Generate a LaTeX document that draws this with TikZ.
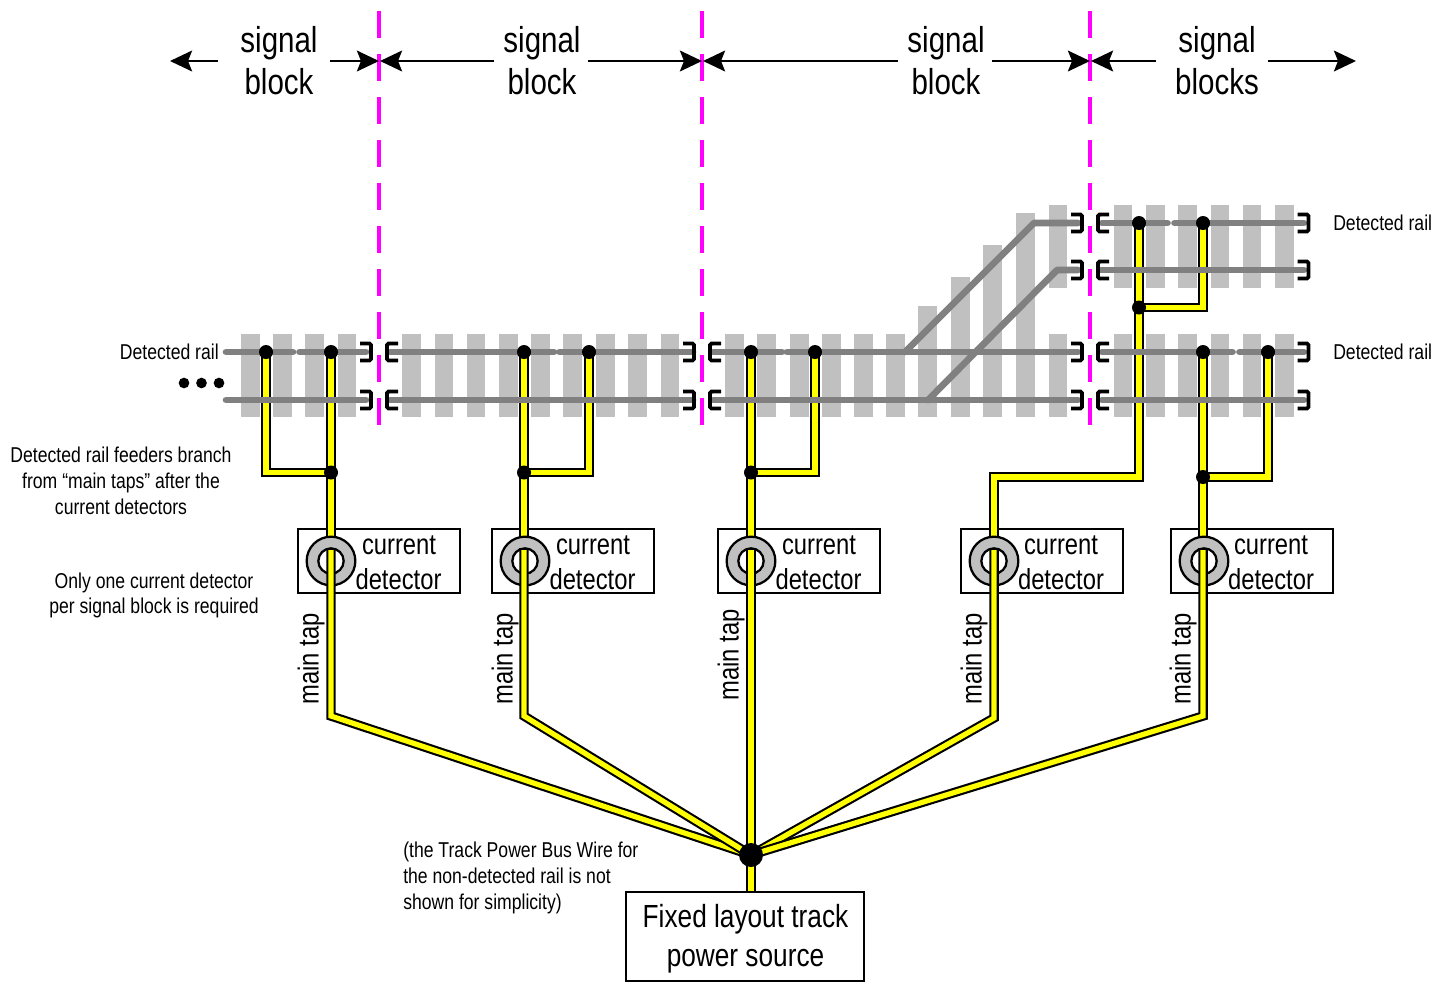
\documentclass[tikz,border=0pt]{standalone}
\usepackage{fontspec}
\setmainfont{Liberation Sans}[FakeStretch=0.82]
\usetikzlibrary{arrows.meta}
\definecolor{tiegray}{HTML}{C0C0C0}
\definecolor{railgray}{HTML}{808080}
\definecolor{wireyellow}{HTML}{FFFF00}
\definecolor{blockmag}{HTML}{FF00FF}
\tikzset{
  tie/.style={fill=tiegray,draw=none},
  railline/.style={draw=railgray,line width=5pt,line cap=round},
  wire/.style={draw=black,line width=1.6pt,double=wireyellow,double distance=3.9pt,line join=miter},
  boundary/.style={draw=blockmag,line width=2.5pt,dash pattern=on 20.25pt off 12pt,line cap=butt},
  blockarrow/.style={draw=black,line width=2.2pt,-{Stealth[length=16.5pt,width=15.5pt,inset=3pt]}},
  insul/.style={draw=black,line width=2.8pt,rounded corners=1.2pt},
  dotbig/.style={circle,fill=black,minimum size=10.5pt,inner sep=0pt},
  boxed/.style={draw=black,line width=1.6pt,fill=white},
  ringnode/.style={circle,fill=tiegray,draw=black,line width=1.7pt,minimum size=36.5pt,inner sep=0pt},
  holenode/.style={circle,fill=white,draw=black,line width=1.7pt,minimum size=19pt,inner sep=0pt},
  bigtext/.style={inner sep=0pt,align=center,font=\fontsize{27pt}{31.5pt}\selectfont},
  midtext/.style={inner sep=0pt,align=center,font=\fontsize{21.75pt}{25.5pt}\selectfont},
  tinytext/.style={inner sep=0pt,align=center,font=\fontsize{16.1pt}{19.4pt}\selectfont},
  srctext/.style={inner sep=0pt,align=center,font=\fontsize{24pt}{29pt}\selectfont},
  moredot/.style={circle,fill=black,minimum size=8pt,inner sep=0pt},
}
\newcommand{\insulR}[2]{\draw[insul] (#1-11,#2-8.5) -- (#1,#2-8.5) -- (#1,#2+8.5) -- (#1-11,#2+8.5);}
\newcommand{\insulL}[2]{\draw[insul] (#1+11,#2-8.5) -- (#1,#2-8.5) -- (#1,#2+8.5) -- (#1+11,#2+8.5);}
\begin{document}
\begin{tikzpicture}[x=0.75pt,y=-0.75pt]
\useasboundingbox (0,0) rectangle (1433,983);
\fill[white] (0,0) rectangle (1433,983);

% ties
\foreach \x in {241,273,305,337.5,402,434.5,466.5,499,531,563,596,628,660.5,725,757,790,822,854,886}
  \fill[tie] (\x,334) rectangle ++(18.5,83);
\fill[tie] (918,306) rectangle (937,417);
\fill[tie] (951,277) rectangle (969.5,417);
\fill[tie] (983,245) rectangle (1002,417);
\fill[tie] (1016,213) rectangle (1035,417);
\fill[tie] (1048.7,205) rectangle (1067.2,288);
\fill[tie] (1048.7,334) rectangle (1067.2,417);
\foreach \x in {1113.5,1146,1178,1210.5,1242.5,1275} {
  \fill[tie] (\x,205) rectangle ++(18.5,83);
  \fill[tie] (\x,334) rectangle ++(18.5,83);
}

% boundaries
\coordinate (b1t) at (379,11); \coordinate (b1b) at (379,426);
\coordinate (b2t) at (702,11); \coordinate (b2b) at (702,426);
\coordinate (b3t) at (1090,11); \coordinate (b3b) at (1090,426);
\draw[boundary] (b1t) -- (b1b);
\draw[boundary] (b2t) -- (b2b);
\draw[boundary] (b3t) -- (b3b);

% block labels and arrows
\node[bigtext] (lab1) at (279,60.5) {signal\\block};
\node[bigtext] (lab2) at (542,60.5) {signal\\block};
\node[bigtext] (lab3) at (946,60.5) {signal\\block};
\node[bigtext] (lab4) at (1217,60.5) {signal\\blocks};
\coordinate (a1l) at (218,61); \coordinate (a1le) at (170,61);
\coordinate (a1r) at (330,61); \coordinate (a1re) at (379,61);
\coordinate (a2l) at (494,61); \coordinate (a2le) at (380,61);
\coordinate (a2r) at (588,61); \coordinate (a2re) at (702,61);
\coordinate (a3l) at (898,61); \coordinate (a3le) at (703,61);
\coordinate (a3r) at (992,61); \coordinate (a3re) at (1090,61);
\coordinate (a4l) at (1156,61); \coordinate (a4le) at (1091,61);
\coordinate (a4r) at (1268,61); \coordinate (a4re) at (1356,61);
\draw[blockarrow] (a1l) -- (a1le);
\draw[blockarrow] (a1r) -- (a1re);
\draw[blockarrow] (a2l) -- (a2le);
\draw[blockarrow] (a2r) -- (a2re);
\draw[blockarrow] (a3l) -- (a3le);
\draw[blockarrow] (a3r) -- (a3re);
\draw[blockarrow] (a4l) -- (a4le);
\draw[blockarrow] (a4r) -- (a4re);

% detector boxes
\node[boxed,minimum width=121.5pt,minimum height=48pt,inner sep=0pt] (box1) at (379,561) {};
\node[boxed,minimum width=121.5pt,minimum height=48pt,inner sep=0pt] (box2) at (573,561) {};
\node[boxed,minimum width=121.5pt,minimum height=48pt,inner sep=0pt] (box3) at (799,561) {};
\node[boxed,minimum width=121.5pt,minimum height=48pt,inner sep=0pt] (box4) at (1042,561) {};
\node[boxed,minimum width=121.5pt,minimum height=48pt,inner sep=0pt] (box5) at (1252,561) {};

% wire joints
\coordinate (bus) at (751,855);
\coordinate (t1a) at (266,352); \coordinate (t1b) at (331,352); \coordinate (j1) at (331,472.5);
\coordinate (t2a) at (524,352); \coordinate (t2b) at (589,352); \coordinate (j2) at (524,472.5);
\coordinate (t3a) at (751,352); \coordinate (t3b) at (815,352); \coordinate (j3) at (751,472.5);
\coordinate (t4a) at (1139,223); \coordinate (t4b) at (1203,223); \coordinate (j4) at (1139,307.5);
\coordinate (t5a) at (1203,352); \coordinate (t5b) at (1268,352); \coordinate (j5) at (1203,477);

% feeders
\draw[wire] (t1a) -- (j1 -| t1a) -- (j1);
\draw[wire] (t2b) -- (j2 -| t2b) -- (j2);
\draw[wire] (t3b) -- (j3 -| t3b) -- (j3);
\draw[wire] (t4b) -- (j4 -| t4b) -- (j4);
\draw[wire] (t5b) -- (j5 -| t5b) -- (j5);

% main taps above the rings
\draw[wire] (t1b) -- (331,561);
\draw[wire] (t2a) -- (524,561);
\draw[wire] (t3a) -- (751,561);
\draw[wire] (t4a) -- (1139,477) -- (994,477) -- (994,561);
\draw[wire] (t5a) -- (1203,561);

% rings
\foreach \n/\x in {1/331,2/525,3/751,4/994,5/1204} {
  \node[ringnode] (ring\n) at (\x,561) {};
  \node[holenode] (hole\n) at (\x,561) {};
}

% main taps below the rings
\draw[wire] (331,549) -- (331,716) -- (bus);
\draw[wire] (524,549) -- (524,716) -- (bus);
\draw[wire] (751,549) -- (751,892);
\draw[wire] (994,549) -- (994,718) -- (bus);
\draw[wire] (1203,549) -- (1203,716) -- (bus);
\foreach \wx in {331,524,751,994,1203}
  \draw[black,line width=1.5pt] (\wx-4.6,549) -- (\wx+4.6,549);

% rails
\foreach \a/\b in {226/293,299.5/366,390/554,559.5/693,713/782,787/1078,1102/1232.5,1239.5/1304}
  \draw[railline] (\a,352) -- (\b,352);
\foreach \a/\b in {226/366,390/693,713/1078,1102/1304}
  \draw[railline] (\a,400) -- (\b,400);
\draw[railline,line join=round] (905,352) -- (1034,223) -- (1078,223);
\draw[railline,line join=round] (928,400) -- (1057,270) -- (1078,270);
\draw[railline] (1102,223) -- (1167.5,223);
\draw[railline] (1174.5,223) -- (1304,223);
\draw[railline] (1100,270) -- (1304,270);

% insulators
\foreach \y in {352,400} {
  \insulR{371}{\y} \insulL{387}{\y}
  \insulR{694}{\y} \insulL{710}{\y}
  \insulR{1082}{\y} \insulL{1098}{\y}
  \insulR{1308.5}{\y}
}
\foreach \y in {223,270} {
  \insulR{1082}{\y} \insulL{1098}{\y}
  \insulR{1308.5}{\y}
}

% dots
\foreach \c in {t1a,t1b,j1,t2a,t2b,j2,t3a,t3b,j3,t4a,t4b,j4,t5a,t5b,j5}
  \node[dotbig] at (\c) {};
\node[circle,fill=black,minimum size=18pt,inner sep=0pt] (busdot) at (bus) {};
\node[moredot] (more1) at (184,383) {};
\node[moredot] (more2) at (201.5,383) {};
\node[moredot] (more3) at (219,383) {};

% source box
\node[boxed,minimum width=178.5pt,minimum height=66.75pt,inner sep=0pt] (source) at (745,936.5) {};
\node[srctext] (sourcetxt) at (745.5,938.5) {Fixed layout track\\power source};

% detector text
\node[midtext] (c1) at (399,545) {current};
\node[midtext] (d1) at (398.5,579) {detector};
\node[midtext] (c2) at (593,545) {current};
\node[midtext] (d2) at (592.5,579) {detector};
\node[midtext] (c3) at (819,545) {current};
\node[midtext] (d3) at (818.5,579) {detector};
\node[midtext] (c4) at (1061,545) {current};
\node[midtext] (d4) at (1061,579) {detector};
\node[midtext] (c5) at (1271,545) {current};
\node[midtext] (d5) at (1271,579) {detector};

% main tap
\node[midtext,rotate=90] (m1) at (311,659) {main tap};
\node[midtext,rotate=90] (m2) at (505,659) {main tap};
\node[midtext,rotate=90] (m3) at (731,655) {main tap};
\node[midtext,rotate=90] (m4) at (974,659) {main tap};
\node[midtext,rotate=90] (m5) at (1183,659) {main tap};

% small text
\node[tinytext,anchor=east] (dr1) at (219,352) {Detected rail};
\node[tinytext,anchor=west] (dr2) at (1333,223) {Detected rail};
\node[tinytext,anchor=west] (dr3) at (1333,352) {Detected rail};
\node[tinytext] (n1) at (121,481) {Detected rail feeders branch\\from “main taps” after the\\current detectors};
\node[tinytext] (n2) at (154,595.5) {Only one current detector\\per signal block is required};
\node[tinytext,align=left,anchor=west] (n3) at (403,878) {(the Track Power Bus Wire for\\the non-detected rail is not\\shown for simplicity)};
\end{tikzpicture}
\end{document}
